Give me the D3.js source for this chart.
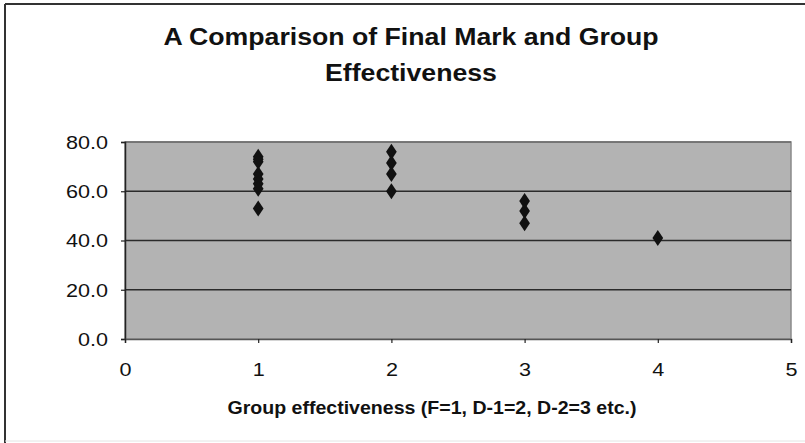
<!DOCTYPE html>
<html>
<head>
<meta charset="utf-8">
<script src="https://cdn.jsdelivr.net/npm/d3@7"></script>
<style>
  html, body { margin: 0; padding: 0; background: #fff; }
  svg { display: block; font-family: "Liberation Sans", Arial, sans-serif; }
</style>
</head>
<body>
<svg id="chart" width="805" height="443"></svg>
<script>
// group effectiveness (x) and final mark (y)
const groupEffectiveness = [1, 1, 1, 1, 1, 1, 1, 1, 2, 2, 2, 2, 3, 3, 3, 4];
const finalMark = [74, 73, 72, 67, 65, 63, 61, 53, 76, 71.5, 67, 60, 56, 52, 47, 41];
const xTicks = [0, 1, 2, 3, 4, 5];
const yTicks = [0, 20, 40, 60, 80];
const titleLines = ["A Comparison of Final Mark and Group", "Effectiveness"];
const xTitle = "Group effectiveness (F=1, D-1=2, D-2=3 etc.)";

const W = 805, H = 443;
const plot = { left: 125, right: 791, top: 142, bottom: 339 };

const svg = d3.select("#chart");

// outer frame
svg.append("line").attr("x1", 5).attr("x2", W).attr("y1", 4).attr("y2", 4)
    .attr("stroke", "#333").attr("stroke-width", 2);
svg.append("line").attr("x1", 5).attr("x2", 5).attr("y1", 4).attr("y2", H)
    .attr("stroke", "#333").attr("stroke-width", 2);
svg.append("line").attr("x1", 5).attr("x2", W).attr("y1", 441).attr("y2", 441)
    .attr("stroke", "#e4e4e4").attr("stroke-width", 1);

const x = d3.scaleLinear().domain([0, 5]).range([plot.left, plot.right]);
const y = d3.scaleLinear().domain([0, 80]).range([plot.bottom, plot.top]);

// the source picture is a little wider than tall, so text gets a horizontal stretch
const placeText = (sel, px, py, sx) => sel
    .attr("transform", `translate(${ px },${ py }) scale(${ sx },1)`);

// title
svg.append("g")
    .selectAll("text")
    .data(titleLines)
    .join("text")
    .attr("text-anchor", "middle")
    .attr("font-weight", "bold")
    .attr("font-size", 23)
    .attr("fill", "#111")
    .each((d, i, nodes) => placeText(d3.select(nodes[i]), 411, 45 + i * 36, 1.16))
    .text(d => d);

// plot area
svg.append("rect")
    .attr("x", plot.left).attr("y", plot.top)
    .attr("width", plot.right - plot.left).attr("height", plot.bottom - plot.top)
    .attr("fill", "#b3b3b3")
    .attr("stroke", "#8a8a8a").attr("stroke-width", 1.5);

// gridlines
svg.append("g")
    .selectAll("line")
    .data(yTicks.filter(d => d > 0))
    .join("line")
    .attr("x1", plot.left).attr("x2", plot.right)
    .attr("y1", d => y(d)).attr("y2", d => y(d))
    .attr("stroke", d => d === 80 ? "#6a6a6a" : "#2b2b2b")
    .attr("stroke-width", 1.6);

// y axis
const yAxis = svg.append("g")
    .attr("transform", `translate(${ plot.left },0)`)
    .call(d3.axisLeft(y).tickValues(yTicks).tickSize(4).tickFormat(d3.format(".1f")));
yAxis.select(".domain").attr("stroke", "#222").attr("stroke-width", 1.5);
yAxis.selectAll(".tick line").attr("stroke", "#222").attr("stroke-width", 1.2);
yAxis.selectAll(".tick text")
    .attr("font-size", 18).attr("fill", "#111").attr("x", 0).attr("dy", "0.35em")
    .attr("text-anchor", "end")
    .attr("transform", "translate(-17,0) scale(1.2,1)");

// x axis
const xAxis = svg.append("g")
    .attr("transform", `translate(0,${ plot.bottom })`)
    .call(d3.axisBottom(x).tickValues(xTicks).tickSize(4).tickFormat(d3.format("d")));
xAxis.select(".domain").attr("stroke", "#555").attr("stroke-width", 1.5);
xAxis.selectAll(".tick line").attr("stroke", "#222").attr("stroke-width", 1.2);
xAxis.selectAll(".tick text")
    .attr("font-size", 18).attr("fill", "#111").attr("y", 0).attr("dy", 0)
    .attr("transform", "translate(0,37) scale(1.2,1)");

// x axis title
svg.append("text")
    .attr("text-anchor", "middle")
    .attr("font-weight", "bold")
    .attr("font-size", 19)
    .attr("fill", "#111")
    .call(sel => placeText(sel, 432, 414, 1.03))
    .text(xTitle);

// points
svg.append("g")
    .selectAll("path")
    .data(finalMark.map((m, i) => ({ g: groupEffectiveness[i], m })))
    .join("path")
    .attr("d", d3.symbol(d3.symbolDiamond, 75))
    .attr("transform", d => `translate(${ x(d.g) },${ y(d.m) }) scale(1.15,1)`)
    .attr("fill", "#111");
</script>
</body>
</html>
